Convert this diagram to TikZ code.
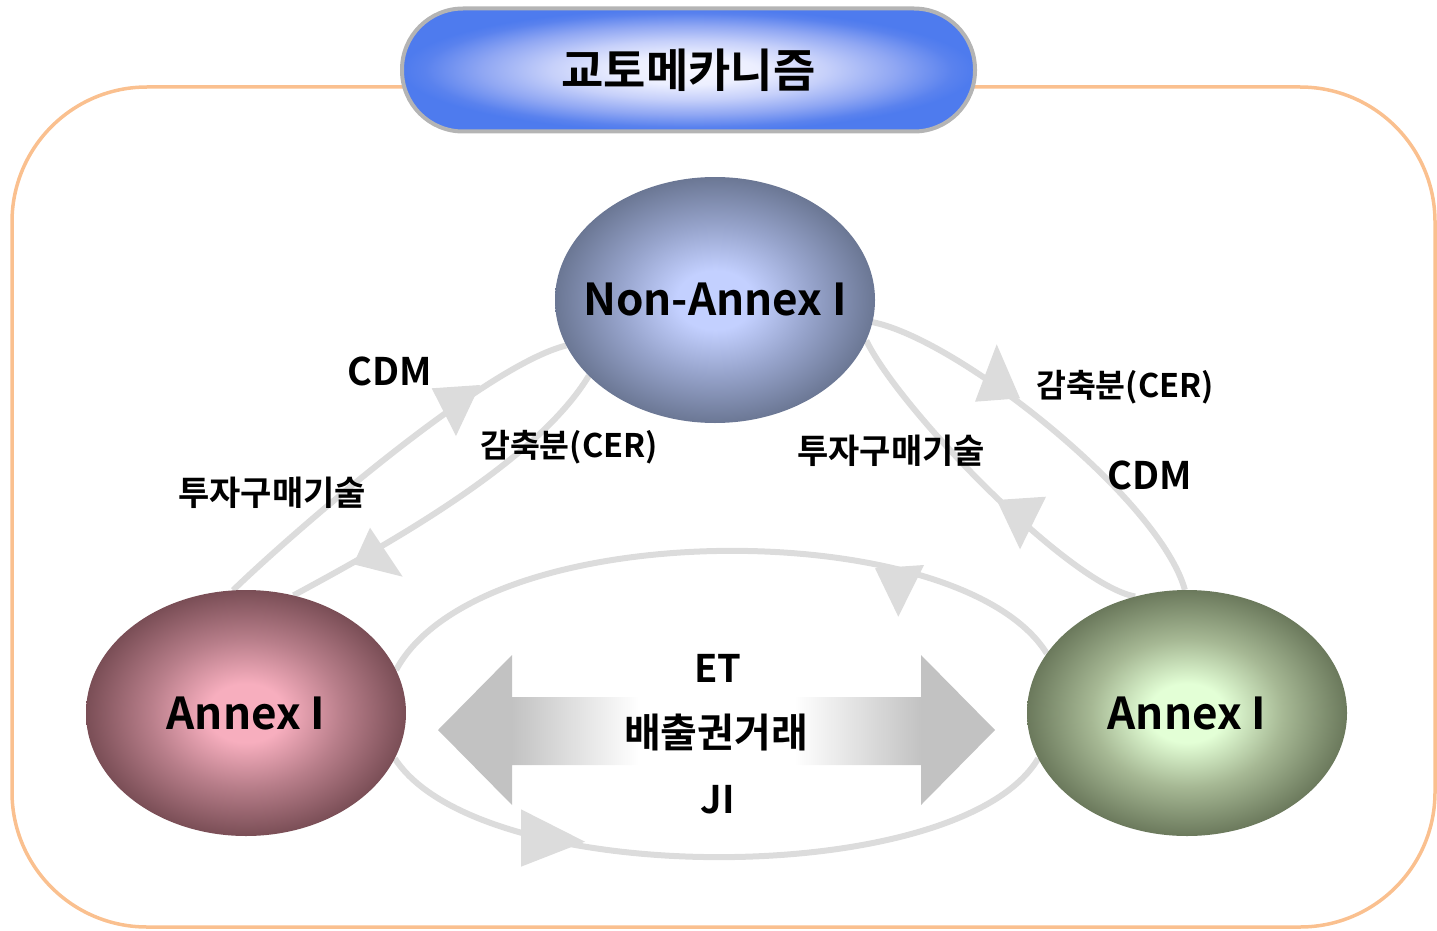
\documentclass[tikz,border=0pt]{standalone}
\usepackage{fontspec}
\setmainfont{Noto Sans CJK KR}[BoldFont={* Bold}]
\usetikzlibrary{shapes.geometric}

\pgfdeclarelayer{links}
\pgfsetlayers{links,main}

% palette
\definecolor{frameOrange}{HTML}{FAC08F}
\definecolor{linkGray}{HTML}{DCDCDC}
\definecolor{pillBorder}{HTML}{B4B4B4}
\definecolor{pillA}{HTML}{F6F6FF}
\definecolor{pillB}{HTML}{ECEFFF}
\definecolor{pillC}{HTML}{C6D0FA}
\definecolor{pillD}{HTML}{90A7F3}
\definecolor{pillE}{HTML}{5A82EE}
\definecolor{pillF}{HTML}{4E7BEE}
\definecolor{naIn}{HTML}{C3D0FF}
\definecolor{naMid}{HTML}{97A4CC}
\definecolor{naOut}{HTML}{6B7794}
\definecolor{alIn}{HTML}{F7AEBE}
\definecolor{alMid}{HTML}{B87E8A}
\definecolor{alOut}{HTML}{7A4E56}
\definecolor{arIn}{HTML}{E3FFD6}
\definecolor{arMid}{HTML}{A6B894}
\definecolor{arOut}{HTML}{6B795C}
\definecolor{arrGray}{HTML}{C2C2C2}

% shadings
\pgfdeclareradialshading{pillshade}{\pgfpoint{0bp}{0bp}}{color(0bp)=(pillA); color(6bp)=(pillB); color(12bp)=(pillC); color(18bp)=(pillD); color(23bp)=(pillE); color(25bp)=(pillF); color(50bp)=(pillF)}
\pgfdeclareradialshading{nashade}{\pgfpoint{0bp}{0bp}}{color(0bp)=(naIn); color(6bp)=(naIn); color(15bp)=(naMid); color(25bp)=(naOut); color(50bp)=(naOut)}
\pgfdeclareradialshading{alshade}{\pgfpoint{0bp}{0bp}}{color(0bp)=(alIn); color(6bp)=(alIn); color(15bp)=(alMid); color(25bp)=(alOut); color(50bp)=(alOut)}
\pgfdeclareradialshading{arshade}{\pgfpoint{0bp}{0bp}}{color(0bp)=(arIn); color(6bp)=(arIn); color(15bp)=(arMid); color(25bp)=(arOut); color(50bp)=(arOut)}
\pgfdeclarehorizontalshading{tradeshade}{100bp}{color(0bp)=(arrGray); color(31.6bp)=(arrGray); color(43bp)=(white); color(57bp)=(white); color(68.4bp)=(arrGray); color(100bp)=(arrGray)}

\tikzset{
  frame/.style={draw=frameOrange, line width=3.5pt, rounded corners=135pt},
  pill/.style={draw=pillBorder, line width=4pt, shading=pillshade, rounded corners=61pt,
    minimum width=573pt, minimum height=123pt, inner sep=0pt,
    font=\fontsize{46}{50}\selectfont\bfseries},
  party/.style={ellipse, minimum width=320pt, minimum height=246pt, inner sep=0pt},
  partyname/.style={inner sep=0pt, font=\fontsize{44}{48}\selectfont\bfseries},
  link/.style={draw=linkGray, line width=6pt},
  tip/.style={fill=linkGray},
  kolbl/.style={inner sep=0pt, font=\fontsize{34}{38}\selectfont\bfseries},
  cerlbl/.style={inner sep=0pt, font=\fontsize{32.5}{36}\selectfont\bfseries},
  big/.style={inner sep=0pt, font=\fontsize{38}{42}\selectfont\bfseries},
  trade/.style={inner sep=0pt, font=\fontsize{40}{44}\selectfont\bfseries},
}

\begin{document}
\begin{tikzpicture}[x=1pt,y=-1pt]
\useasboundingbox (0,0) rectangle (1437,931);

% outer frame
\draw[frame] (12,87) rectangle (1435,927);

% title
\node[pill] (title) at (688.5,70) {교토메카니즘};

% parties
\node[party, shading=nashade] (nonannex) at (715,300) {};
\node[party, shading=alshade] (annexL) at (246,713) {};
\node[party, shading=arshade] (annexR) at (1187,713) {};
\node[partyname] (nonannexName) at (nonannex) {Non-Annex I};
\node[partyname] (annexLName) at (annexL) {Annex I};
\node[partyname] (annexRName) at (annexR) {Annex I};

\begin{pgfonlayer}{links}
% trading loop between the two Annex I parties
\draw[link] (annexL.16.6) .. controls (480,514) and (960,514) .. (annexR.157.8);
\draw[link] (annexL.343) .. controls (480,890) and (960,890) .. (annexR.197.7);
% CDM links
\draw[link] (annexL.96.6) .. controls (290,535) and (484,366) .. (nonannex.197.7);
\draw[link] (nonannex.211.6) .. controls (536,463) and (383,547) .. (annexL.68.6);
\draw[link] (nonannex.352.8) .. controls (960,340) and (1160,500) .. (annexR.91);
\draw[link] (nonannex.345.5) .. controls (900,410) and (1070,585) .. (annexR.114.3);
\end{pgfonlayer}

% arrow heads
\fill[tip] (431.7,388.3) -- (480,385) -- (456,436) -- cycle;
\fill[tip] (370,527.7) -- (402.7,576.7) -- (353.3,564.3) -- cycle;
\fill[tip] (996.7,344.3) -- (1020,398.3) -- (975,401.7) -- cycle;
\fill[tip] (996.7,500) -- (1046,496.7) -- (1020,549.3) -- cycle;
\fill[tip] (875,568.3) -- (924,565) -- (898.3,616.7) -- cycle;
\fill[tip] (521,809.3) -- (585,841.7) -- (521,866.7) -- cycle;

% trading double arrow
\shade[shading=tradeshade] (438,730) -- (512,655) -- (512,697) -- (921,697) -- (921,655)
  -- (995,730) -- (921,805) -- (921,765) -- (512,765) -- (512,805) -- cycle;

% labels
\node[big] (cdmL) at (390,371) {CDM};
\node[kolbl] (techL) at (272,493) {투자구매기술};
\node[cerlbl] (cerL) at (569,447) {감축분(CER)};
\node[cerlbl] (cerR) at (1125,387) {감축분(CER)};
\node[big] (cdmR) at (1150,475) {CDM};
\node[kolbl] (techR) at (891,451) {투자구매기술};
\node[big] (et) at (718,668) {ET};
\node[trade] (tradeTxt) at (716,733) {배출권거래};
\node[big] (ji) at (718,800) {JI};
\end{tikzpicture}
\end{document}
